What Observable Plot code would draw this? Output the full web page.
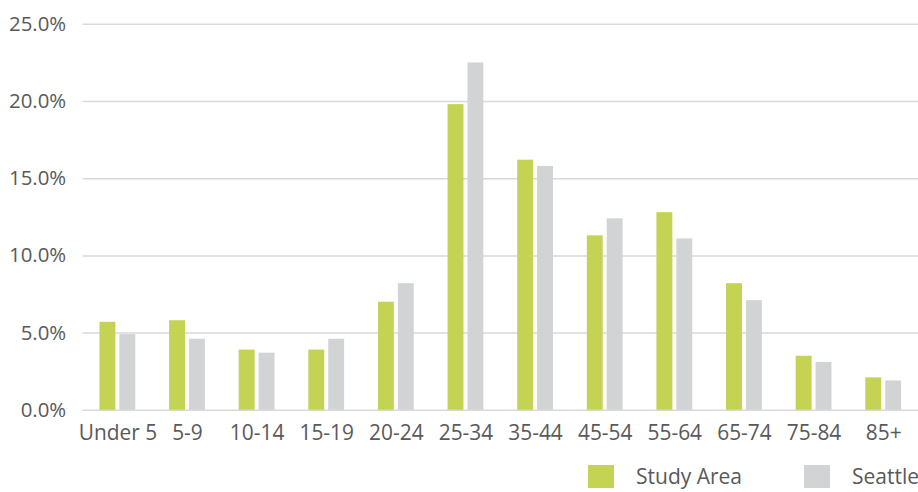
<!DOCTYPE html>
<html>
<head>
<meta charset="utf-8">
<script src="https://cdn.jsdelivr.net/npm/d3@7"></script>
<script src="https://cdn.jsdelivr.net/npm/@observablehq/plot@0.6"></script>
<style>
  html, body { margin: 0; padding: 0; background: #fff; overflow: hidden; width: 918px; height: 492px; }
  #chart svg { display: block; overflow: visible; }
  .legend { position: relative; height: 37px; font-family: "Open Sans", sans-serif; font-size: 21px; color: #595959; white-space: nowrap; }
  .legend .sw { position: absolute; top: 12px; width: 26px; height: 23px; }
  .legend .lbl { position: absolute; top: 9px; line-height: 28px; }
</style>
</head>
<body>
<div id="chart"></div>
<div class="legend" id="legend"></div>
<script>
const ageGroups = ["Under 5", "5-9", "10-14", "15-19", "20-24", "25-34", "35-44", "45-54", "55-64", "65-74", "75-84", "85+"];
const studyArea = [5.7, 5.8, 3.9, 3.9, 7.0, 19.8, 16.2, 11.3, 12.8, 8.2, 3.5, 2.1];
const seattle = [4.9, 4.6, 3.7, 4.6, 8.2, 22.5, 15.8, 12.4, 11.1, 7.1, 3.1, 1.9];
const yTicks = [0, 5, 10, 15, 20, 25];
const seriesNames = ["Study Area", "Seattle"];
const seriesColors = ["#c4d353", "#d2d3d5"];

const studyData = ageGroups.map((a, i) => ({age: a, value: studyArea[i]}));
const seattleData = ageGroups.map((a, i) => ({age: a, value: seattle[i]}));

const chart = Plot.plot({
  width: 923,
  height: 455,
  marginLeft: 83,
  marginRight: 0,
  marginTop: 24,
  marginBottom: 43,
  style: {fontFamily: "Open Sans, sans-serif", fontSize: "21px", color: "#595959", background: "#fff"},
  x: {domain: ageGroups, padding: 0, label: null},
  y: {domain: [0, 25], label: null},
  marks: [
    Plot.ruleY(yTicks, {stroke: "#d9d9d9", strokeWidth: 1.5}),
    Plot.barY(studyData, {x: "age", y: "value", fill: seriesColors[0], insetLeft: 17, insetRight: 37}),
    Plot.barY(seattleData, {x: "age", y: "value", fill: seriesColors[1], insetLeft: 37, insetRight: 17}),
    Plot.axisX({tickSize: 0, tickPadding: 15, fontSize: 21, fill: "#595959", label: null}),
    Plot.axisY({ticks: yTicks, tickFormat: d => d.toFixed(1) + "%", tickSize: 0, tickPadding: 17, fontSize: 20.5, fill: "#595959", label: null})
  ]
});
document.getElementById("chart").appendChild(chart);

const legend = document.getElementById("legend");
const legendPos = [588, 804];
seriesNames.forEach((n, i) => {
  const sw = document.createElement("div");
  sw.className = "sw";
  sw.style.left = legendPos[i] + "px";
  sw.style.background = seriesColors[i];
  const t = document.createElement("div");
  t.className = "lbl";
  t.style.left = (legendPos[i] + 48) + "px";
  t.textContent = n;
  legend.appendChild(sw);
  legend.appendChild(t);
});
</script>
</body>
</html>
